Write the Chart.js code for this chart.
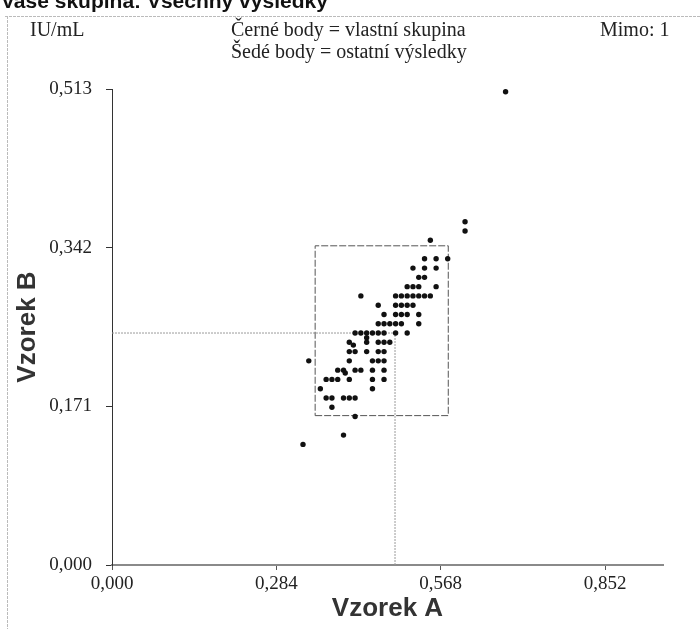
<!DOCTYPE html>
<html>
<head>
<meta charset="utf-8">
<script src="https://cdn.jsdelivr.net/npm/chart.js@4/dist/chart.umd.min.js"></script>
<style>
  html, body { margin: 0; padding: 0; background: #fff; }
  #wrap { width: 700px; height: 629px; position: relative; }
</style>
</head>
<body>
<div id="wrap"><canvas id="chart" width="700" height="629"></canvas></div>
<script>
// Axis setup (IU/mL)
const tickValuesX = [0, 0.284, 0.568, 0.852];
const tickValuesY = [0, 0.171, 0.342, 0.513];
const axisMaxX = 0.952;
const axisMaxY = 0.513;

// Own group results (black points)
const pointsA = [
  0.55,
  0.54, 0.56, 0.58,
  0.52, 0.54, 0.56,
  0.53, 0.54,
  0.51, 0.52, 0.53, 0.56,
  0.43, 0.49, 0.50, 0.51, 0.52, 0.53, 0.54, 0.55,
  0.46, 0.49, 0.50, 0.51, 0.52,
  0.47, 0.49, 0.50, 0.51, 0.53,
  0.46, 0.47, 0.48, 0.49, 0.50, 0.53,
  0.42, 0.43, 0.44, 0.45, 0.46, 0.47, 0.49, 0.51,
  0.44,
  0.41, 0.417, 0.44, 0.46, 0.47, 0.48,
  0.41, 0.42, 0.44, 0.46, 0.47,
  0.34, 0.41, 0.45, 0.46, 0.47,
  0.39, 0.40, 0.403, 0.42, 0.43, 0.45, 0.47,
  0.37, 0.38, 0.39, 0.41, 0.45, 0.47,
  0.36, 0.45,
  0.37, 0.38, 0.40, 0.41, 0.42,
  0.38,
  0.42,
  0.40,
  0.33,
  0.61, 0.61,
  0.68
];
const pointsB = [
  0.35,
  0.33, 0.33, 0.33,
  0.32, 0.32, 0.32,
  0.31, 0.31,
  0.30, 0.30, 0.30, 0.30,
  0.29, 0.29, 0.29, 0.29, 0.29, 0.29, 0.29, 0.29,
  0.28, 0.28, 0.28, 0.28, 0.28,
  0.27, 0.27, 0.27, 0.27, 0.27,
  0.26, 0.26, 0.26, 0.26, 0.26, 0.26,
  0.25, 0.25, 0.25, 0.25, 0.25, 0.25, 0.25, 0.25,
  0.245,
  0.24, 0.237, 0.24, 0.24, 0.24, 0.24,
  0.23, 0.23, 0.23, 0.23, 0.23,
  0.22, 0.22, 0.22, 0.22, 0.22,
  0.21, 0.21, 0.207, 0.21, 0.21, 0.21, 0.21,
  0.20, 0.20, 0.20, 0.20, 0.20, 0.20,
  0.19, 0.19,
  0.18, 0.18, 0.18, 0.18, 0.18,
  0.17,
  0.16,
  0.14,
  0.13,
  0.37, 0.36,
  0.51
];

// Acceptance box and target (consensus) value
const boxA = [0.351, 0.581];
const boxB = [0.161, 0.344];
const targetA = 0.489;
const targetB = 0.25;

const fmt = v => Number(v).toFixed(3).replace(".", ",");

// header texts and frame
const headerPlugin = {
  id: "header",
  beforeDraw(chart) {
    const c = chart.ctx;
    c.save();
    c.fillStyle = "#fff";
    c.fillRect(0, 0, chart.width, chart.height);
    c.strokeStyle = "#bbb";
    c.lineWidth = 1;
    c.setLineDash([3, 1]);
    c.beginPath();
    c.moveTo(5, 16.5); c.lineTo(700, 16.5);
    c.moveTo(7.5, 16); c.lineTo(7.5, 629);
    c.stroke();
    c.setLineDash([]);
    c.fillStyle = "#111";
    c.font = "bold 21px 'Liberation Sans'";
    c.textBaseline = "alphabetic";
    c.fillText("Vaše skupina: Všechny výsledky", 1, 8);
    c.font = "20px 'Liberation Serif'";
    c.fillStyle = "#222";
    c.textBaseline = "middle";
    c.fillText("IU/mL", 30, 31);
    c.fillText("Černé body = vlastní skupina", 231, 31);
    c.fillText("Šedé body = ostatní výsledky", 231, 53);
    c.fillText("Mimo: 1", 600, 31);
    c.restore();
  }
};

const ownPoints = pointsA.map((a, i) => ({ x: a, y: pointsB[i] }));
const boxLine = [
  { x: boxA[0], y: boxB[0] }, { x: boxA[1], y: boxB[0] },
  { x: boxA[1], y: boxB[1] }, { x: boxA[0], y: boxB[1] },
  { x: boxA[0], y: boxB[0] }
];
const targetLine = [
  { x: 0, y: targetB }, { x: targetA, y: targetB }, { x: targetA, y: 0 }
];

new Chart(document.getElementById("chart"), {
  type: "scatter",
  data: {
    datasets: [
      {
        label: "vlastní skupina",
        data: ownPoints,
        backgroundColor: "#111",
        borderWidth: 0,
        pointRadius: 2.7
      },
      {
        label: "box",
        data: boxLine,
        showLine: true,
        borderColor: "#555",
        borderWidth: 1,
        borderDash: [7, 2],
        pointRadius: 0
      },
      {
        label: "cíl",
        data: targetLine,
        showLine: true,
        borderColor: "#9a9a9a",
        borderWidth: 1,
        borderDash: [2, 1],
        pointRadius: 0
      }
    ]
  },
  options: {
    responsive: false,
    animation: false,
    layout: { padding: { left: 0, right: 37, top: 89, bottom: 0 } },
    plugins: { legend: { display: false }, tooltip: { enabled: false } },
    scales: {
      x: {
        type: "linear",
        min: 0,
        max: axisMaxX,
        afterBuildTicks: ax => { ax.ticks = tickValuesX.map(v => ({ value: v })); },
        afterFit: ax => { ax.height = 64; },
        ticks: {
          callback: fmt,
          font: { family: "'Liberation Serif'", size: 19 },
          color: "#222",
          padding: 3,
          maxRotation: 0
        },
        grid: { drawOnChartArea: false, tickLength: 5, color: "#555" },
        border: { color: "#8a8a8a", width: 2 },
        title: {
          display: true,
          text: "Vzorek A",
          font: { family: "'Liberation Sans'", size: 26, weight: "bold" },
          color: "#333",
          padding: { top: 0, bottom: 5 }
        }
      },
      y: {
        type: "linear",
        min: 0,
        max: axisMaxY,
        afterBuildTicks: ax => { ax.ticks = tickValuesY.map(v => ({ value: v })); },
        afterFit: ax => { ax.width = 112; },
        ticks: {
          callback: fmt,
          font: { family: "'Liberation Serif'", size: 19 },
          color: "#222",
          padding: 14
        },
        grid: { drawOnChartArea: false, tickLength: 6, color: "#333" },
        border: { color: "#333", width: 1 },
        title: {
          display: true,
          text: "Vzorek B",
          font: { family: "'Liberation Sans'", size: 26, weight: "bold" },
          color: "#333",
          padding: { top: 12, bottom: 0 }
        }
      }
    }
  },
  plugins: [headerPlugin]
});
</script>
</body>
</html>
